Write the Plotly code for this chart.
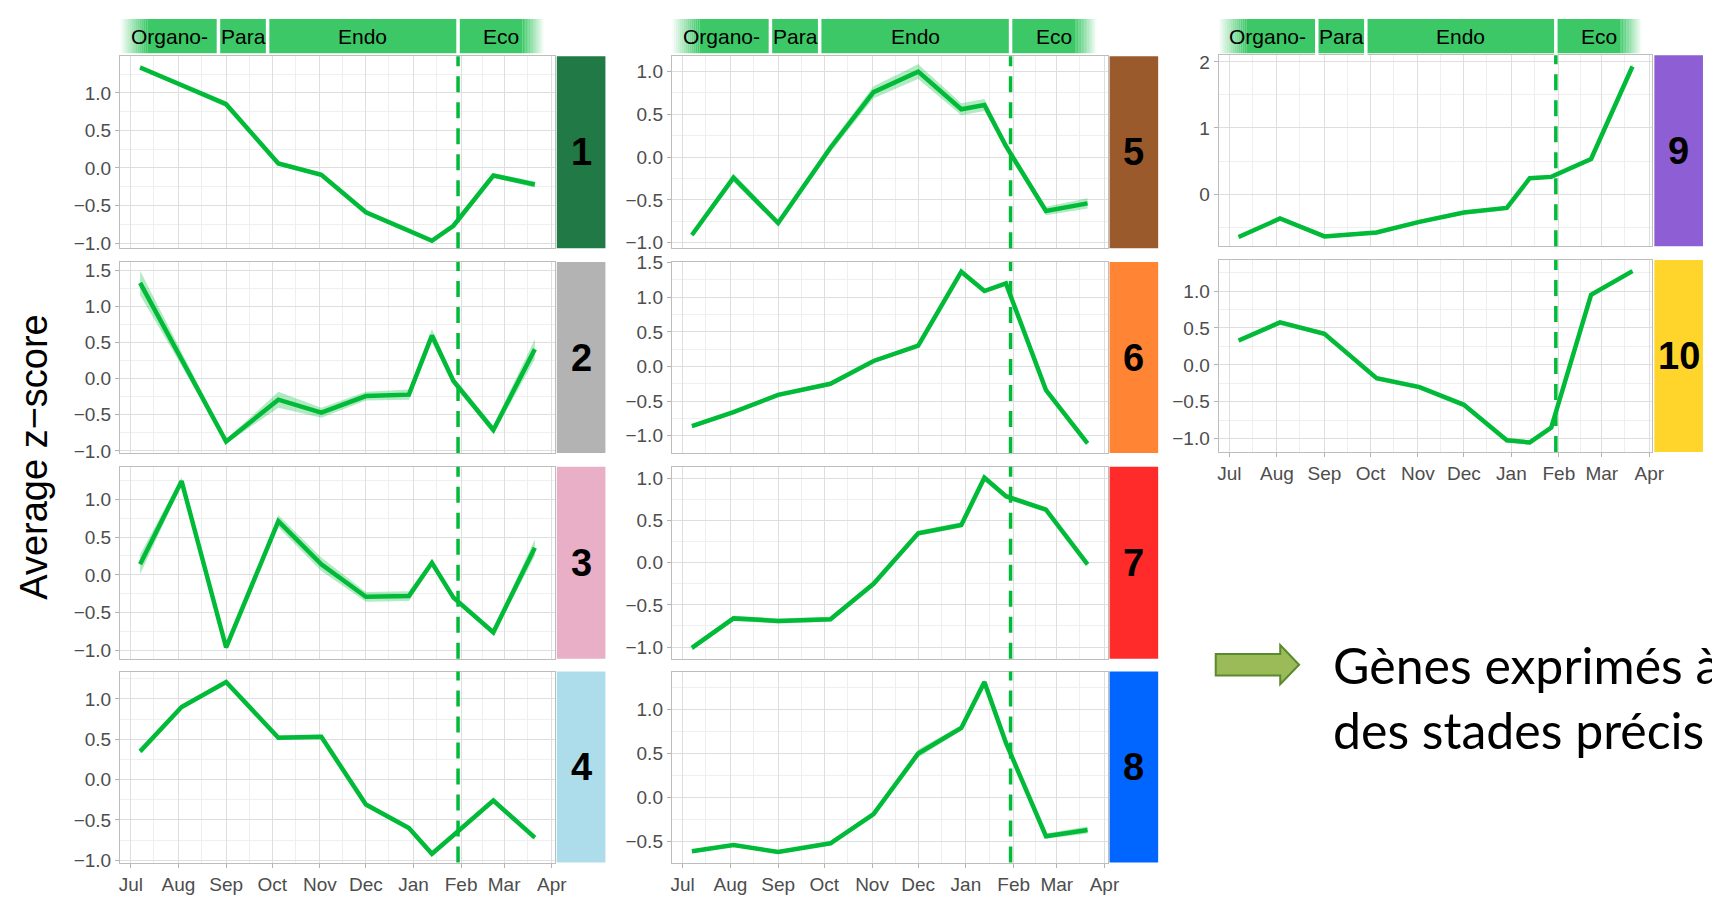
import pandas as pd
import plotly.graph_objects as go

# ---------------- data ----------------
DATES = ["2018-07-07", "2018-08-03", "2018-09-01", "2018-10-05", "2018-11-02",
         "2018-12-01", "2018-12-29", "2019-01-13", "2019-01-27", "2019-02-22",
         "2019-03-21"]
MONTH_TICKS = ["2018-07-01", "2018-08-01", "2018-09-01", "2018-10-01", "2018-11-01",
               "2018-12-01", "2019-01-01", "2019-02-01", "2019-03-01", "2019-04-01"]
MONTH_LABELS = ["Jul", "Aug", "Sep", "Oct", "Nov", "Dec", "Jan", "Feb", "Mar", "Apr"]
CLUSTERS = ["1", "2", "3", "4", "5", "6", "7", "8", "9", "10"]

Z1 = [1.34, 1.11, 0.85, 0.06, -0.09, -0.59, -0.83, -0.97, -0.77, -0.10, -0.22]
Z2 = [1.33, 0.28, -0.87, -0.29, -0.47, -0.24, -0.22, 0.60, -0.03, -0.71, 0.41]
Z3 = [0.14, 1.24, -0.96, 0.71, 0.14, -0.29, -0.28, 0.16, -0.30, -0.76, 0.36]
Z4 = [0.35, 0.90, 1.21, 0.52, 0.53, -0.31, -0.60, -0.92, -0.69, -0.26, -0.72]
Z5 = [-0.91, -0.24, -0.77, 0.11, 0.76, 1.00, 0.56, 0.61, 0.13, -0.63, -0.54]
Z6 = [-0.86, -0.66, -0.41, -0.25, 0.08, 0.30, 1.37, 1.09, 1.20, -0.34, -1.11]
Z7 = [-1.01, -0.66, -0.69, -0.67, -0.25, 0.35, 0.45, 1.01, 0.79, 0.63, -0.02]
Z8 = [-0.61, -0.54, -0.62, -0.52, -0.19, 0.50, 0.79, 1.31, 0.62, -0.44, -0.37]
Z9 = [-0.65, -0.37, -0.64, -0.58, -0.42, -0.28, -0.21, 0.24, 0.26, 0.53, 1.93]
Z10 = [0.33, 0.575, 0.42, -0.18, -0.30, -0.54, -1.02, -1.05, -0.85, 0.95, 1.27]

# half-width of the light ribbon around each mean profile
SE1 = [0.03, 0.03, 0.04, 0.03, 0.03, 0.03, 0.03, 0.03, 0.03, 0.03, 0.04]
SE2 = [0.17, 0.10, 0.03, 0.11, 0.07, 0.06, 0.07, 0.09, 0.05, 0.06, 0.14]
SE3 = [0.13, 0.05, 0.03, 0.08, 0.09, 0.065, 0.065, 0.04, 0.04, 0.04, 0.11]
SE4 = [0.03, 0.03, 0.03, 0.03, 0.03, 0.03, 0.03, 0.03, 0.03, 0.03, 0.03]
SE5 = [0.025, 0.05, 0.035, 0.05, 0.07, 0.085, 0.07, 0.07, 0.035, 0.05, 0.06]
SE6 = [0.03, 0.03, 0.03, 0.03, 0.03, 0.03, 0.03, 0.03, 0.03, 0.03, 0.03]
SE7 = [0.03, 0.03, 0.03, 0.03, 0.03, 0.03, 0.03, 0.03, 0.03, 0.03, 0.03]
SE8 = [0.02, 0.02, 0.02, 0.02, 0.03, 0.045, 0.03, 0.03, 0.03, 0.03, 0.04]
SE9 = [0.03, 0.03, 0.03, 0.03, 0.03, 0.03, 0.03, 0.03, 0.03, 0.03, 0.04]
SE10 = [0.03, 0.03, 0.03, 0.03, 0.03, 0.03, 0.03, 0.03, 0.03, 0.03, 0.03]

Z = [Z1, Z2, Z3, Z4, Z5, Z6, Z7, Z8, Z9, Z10]
SE = [SE1, SE2, SE3, SE4, SE5, SE6, SE7, SE8, SE9, SE10]

STRIP_COLORS = ["#217A45", "#B3B3B3", "#E8AFC7", "#ADDDEA", "#9B5A2C",
                "#FF8433", "#FF2B2B", "#0066FF", "#8E5FD4", "#FFD52B"]

PHASES = ["Organo-", "Para", "Endo", "Eco"]
PHASE_BOUNDS = ["2018-06-24", "2018-08-27", "2018-09-28", "2019-01-30", "2019-03-27"]
DORMANCY_DATE = "2019-01-30"

Y_TITLE = "Average z\u2212score"
NOTE = "Gènes exprimés à<br>des stades précis"

# ---------------- layout constants ----------------
PAGE_W, PAGE_H = 1720, 909
BODY = 8                      # default page margin around the plot div
W, H = PAGE_W - 2 * BODY, PAGE_H - 2 * BODY
X_RANGE = ["2018-06-24", "2019-04-03"]
Y_RANGES = [[-1.07, 1.49], [-1.03, 1.62], [-1.11, 1.43], [-1.03, 1.34],
            [-1.065, 1.18], [-1.25, 1.51], [-1.14, 1.14], [-0.74, 1.43],
            [-0.79, 2.10], [-1.18, 1.42]]
Y_DTICK = [0.5, 0.5, 0.5, 0.5, 0.5, 0.5, 0.5, 0.5, 1, 0.5]

# positions in page pixels
COL_X = [(120, 558), (676, 1115), (1227, 1664)]
STRIP_X = [(560, 609), (1117, 1166), (1666, 1715)]
ROW_Y = [[(47, 243), (257, 452), (466, 662), (675, 870)],
         [(47, 243), (257, 452), (466, 662), (675, 870)],
         [(46, 241), (255, 451)]]
PANEL_POS = [(0, 0), (0, 1), (0, 2), (0, 3), (1, 0), (1, 1), (1, 2), (1, 3), (2, 0), (2, 1)]
HEADER_Y = (9, 44)

LINE = "#00BA38"
RIBBON = "rgba(0,186,56,0.30)"
HEADER_GREEN = (60, 200, 102)
MAJOR = "#DEDEDE"
MINOR = "#EFEFEF"
BORDER = "#BDBDBD"
TICKFONT = dict(family="Liberation Sans, Arial", size=19, color="#4D4D4D")


def px(x):
    return (x - BODY) / W


def py(y):
    return 1 - (y - BODY) / H


mt = pd.to_datetime(MONTH_TICKS)
minor_x = [(mt[i] + (mt[i + 1] - mt[i]) / 2).strftime("%Y-%m-%d") for i in range(len(mt) - 1)]

fig = go.Figure()
layout = {}
shapes = []
annotations = []

for i in range(10):
    k = i + 1
    sfx = "" if k == 1 else str(k)
    col, row = PANEL_POS[i]
    x0, x1 = COL_X[col]
    y0, y1 = ROW_Y[col][row]
    bottom = row == len(ROW_Y[col]) - 1
    z, se = Z[i], SE[i]
    upper = [a + b for a, b in zip(z, se)]
    lower = [a - b for a, b in zip(z, se)]
    fig.add_trace(go.Scatter(x=DATES + DATES[::-1], y=upper + lower[::-1],
                             fill="toself", fillcolor=RIBBON, line=dict(width=0),
                             mode="lines", hoverinfo="skip",
                             xaxis="x" + sfx, yaxis="y" + sfx))
    fig.add_trace(go.Scatter(x=DATES, y=z, mode="lines",
                             line=dict(color=LINE, width=4.5),
                             xaxis="x" + sfx, yaxis="y" + sfx))
    layout["xaxis" + sfx] = dict(
        domain=[px(x0), px(x1)], range=X_RANGE, type="date",
        tickmode="array", tickvals=MONTH_TICKS, ticktext=MONTH_LABELS,
        showticklabels=bottom, ticks="outside" if bottom else "",
        ticklen=4, tickcolor="#B3B3B3", tickfont=TICKFONT,
        showgrid=True, gridcolor=MAJOR, gridwidth=1.3,
        minor=dict(tickmode="array", tickvals=minor_x, showgrid=True,
                   gridcolor=MINOR, gridwidth=0.9, ticks=""),
        showline=True, mirror=True, linecolor=BORDER, linewidth=1.3,
        zeroline=False, anchor="y" + sfx)
    d = Y_DTICK[i]
    layout["yaxis" + sfx] = dict(
        domain=[py(y1), py(y0)], range=Y_RANGES[i],
        tickmode="linear", tick0=0, dtick=d,
        tickformat=".0f" if d >= 1 else ".1f",
        ticks="outside", ticklen=4, tickcolor="#B3B3B3", tickfont=TICKFONT,
        showgrid=True, gridcolor=MAJOR, gridwidth=1.3,
        minor=dict(tick0=0, dtick=d / 2, showgrid=True, gridcolor=MINOR,
                   gridwidth=0.9, ticks=""),
        showline=True, mirror=True, linecolor=BORDER, linewidth=1.3,
        zeroline=False, anchor="x" + sfx)
    # dormancy dashed line
    shapes.append(dict(type="line", xref="x" + sfx, yref="y" + sfx + " domain",
                       x0=DORMANCY_DATE, x1=DORMANCY_DATE, y0=0, y1=1,
                       line=dict(color=LINE, width=3.5, dash="16px,10px")))
    # right strip
    sx0, sx1 = STRIP_X[col]
    shapes.append(dict(type="rect", xref="paper", yref="paper",
                       x0=px(sx0), x1=px(sx1), y0=py(y1), y1=py(y0),
                       fillcolor=STRIP_COLORS[i], line=dict(width=0), layer="above"))
    annotations.append(dict(xref="paper", yref="paper", x=px((sx0 + sx1) / 2),
                            y=py((y0 + y1) / 2), text="<b>" + CLUSTERS[i] + "</b>",
                            showarrow=False, xanchor="center", yanchor="middle",
                            font=dict(family="Liberation Sans, Arial", size=38, color="black")))

# phase header over each column
hy0, hy1 = py(HEADER_Y[1]), py(HEADER_Y[0])
pb = pd.to_datetime(PHASE_BOUNDS)
g = "rgba(%d,%d,%d,%%s)" % HEADER_GREEN
FADE_L = pd.Timedelta(days=18)
FADE_R = pd.Timedelta(days=14)
NS = 14


def fmt(t):
    return t.strftime("%Y-%m-%d %H:%M")


for col in range(3):
    top_panel = [j for j, p in enumerate(PANEL_POS) if p == (col, 0)][0] + 1
    xr = "x" if top_panel == 1 else "x" + str(top_panel)
    shapes.append(dict(type="rect", xref=xr, yref="paper", x0=fmt(pb[0] + FADE_L),
                       x1=fmt(pb[-1] - FADE_R), y0=hy0, y1=hy1,
                       fillcolor=g % 1, line=dict(width=0)))
    for s in range(NS):
        a = (s + 0.5) / NS
        l0 = pb[0] + FADE_L * s / NS
        l1 = pb[0] + FADE_L * (s + 1) / NS
        shapes.append(dict(type="rect", xref=xr, yref="paper", x0=fmt(l0), x1=fmt(l1),
                           y0=hy0, y1=hy1, fillcolor=g % round(a, 3), line=dict(width=0)))
        r0 = pb[-1] - FADE_R * (s + 1) / NS
        r1 = pb[-1] - FADE_R * s / NS
        shapes.append(dict(type="rect", xref=xr, yref="paper", x0=fmt(r0), x1=fmt(r1),
                           y0=hy0, y1=hy1, fillcolor=g % round(a, 3), line=dict(width=0)))
    for b in pb[1:-1]:
        shapes.append(dict(type="line", xref=xr, yref="paper", x0=fmt(b), x1=fmt(b),
                           y0=hy0 - 0.002, y1=hy1 + 0.002, line=dict(color="white", width=3.5)))
    for j, name in enumerate(PHASES):
        mid = pb[j] + (pb[j + 1] - pb[j]) / 2
        annotations.append(dict(xref=xr, yref="paper", x=fmt(mid), y=(hy0 + hy1) / 2,
                                text=name, showarrow=False, xanchor="center", yanchor="middle",
                                font=dict(family="Liberation Sans, Arial", size=21, color="black")))

# y title
annotations.append(dict(xref="paper", yref="paper", x=px(33), y=py(456), text=Y_TITLE,
                        textangle=-90, showarrow=False, xanchor="center", yanchor="middle",
                        font=dict(family="Liberation Sans, Arial", size=38, color="black")))

# arrow + note
ARROW = [(1224, 657), (1289, 657), (1289, 648), (1308, 668), (1289, 688), (1289, 679), (1224, 679)]
path = "M " + " L ".join("%.5f %.5f" % (px(a), py(b)) for a, b in ARROW) + " Z"
shapes.append(dict(type="path", xref="paper", yref="paper", path=path,
                   fillcolor="#9BBB59", line=dict(color="#5A8A2E", width=2)))
annotations.append(dict(xref="paper", yref="paper", x=px(1340), y=py(701), text=NOTE,
                        showarrow=False, xanchor="left", yanchor="middle", align="left",
                        font=dict(family="Lato, Open Sans", size=50, color="black")))

fig.update_layout(**layout)
fig.update_layout(width=W, height=H, margin=dict(l=0, r=0, t=0, b=0),
                  paper_bgcolor="white", plot_bgcolor="white", showlegend=False,
                  shapes=shapes, annotations=annotations)
fig.write_html("out.html")
